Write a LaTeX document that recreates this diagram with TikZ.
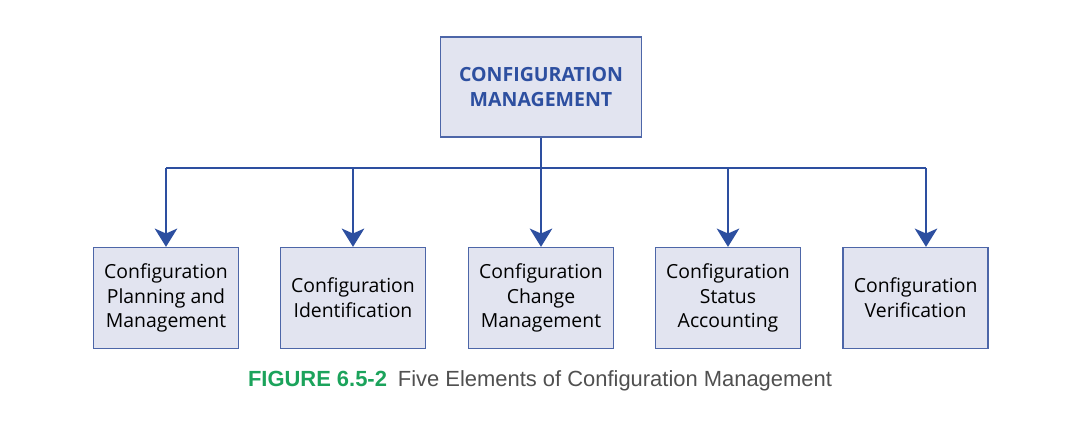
\documentclass[tikz,border=0pt]{standalone}
\usepackage{fontspec}
\setmainfont{Open Sans}
\newfontfamily\capfont{Liberation Sans}
\usetikzlibrary{arrows.meta}
\definecolor{cmblue}{HTML}{2D4FA0}
\definecolor{cmedge}{HTML}{4D66A8}
\definecolor{cmfill}{HTML}{E2E4F0}
\definecolor{cmgreen}{HTML}{1BA35B}
\definecolor{cmgray}{HTML}{505050}

\begin{document}
\begin{tikzpicture}[font=\fontsize{13.8}{17.7}\selectfont,
  box/.style={draw=cmedge,fill=cmfill,line width=0.9pt,align=center,inner sep=2pt,minimum width=3.625cm,minimum height=2.525cm},
  head/.style={box,minimum width=5.025cm,minimum height=2.5cm,text=cmblue,font=\fontsize{13.9}{18.4}\selectfont\bfseries},
  flow/.style={cmblue,line width=1.6pt},
  drop/.style={flow,-{Stealth[length=13pt,width=16pt,inset=3.5pt]}},
  figcap/.style={font=\capfont\fontsize{15.6}{17}\selectfont,text=cmgray}]

\useasboundingbox (0,0) rectangle (27,10.875);

% top node
\node[head] (cm) at (13.525,8.7) {CONFIGURATION\\MANAGEMENT};
% five elements
\node[box] (plan) at (4.15,3.425) {Configuration\\Planning and\\Management};
\node[box] (ident) at (8.825,3.425) {Configuration\\Identification};
\node[box] (chg) at (13.525,3.425) {Configuration\\Change\\Management};
\node[box] (stat) at (18.2,3.425) {Configuration\\Status\\Accounting};
\node[box] (ver) at (22.89,3.425) {Configuration\\Verification};

% bus
\coordinate (bl) at (4.15,6.675);
\coordinate (br) at (23.15,6.675);
\draw[flow] (cm.south) -- (cm.south |- bl);
\draw[flow] (bl) -- (br);
\draw[drop] (plan.north |- bl) -- (plan.north);
\draw[drop] (ident.north |- bl) -- (ident.north);
\draw[drop] (chg.north |- bl) -- (chg.north);
\draw[drop] (stat.north |- bl) -- (stat.north);
\draw[drop] (br) -- (br |- ver.north);

% caption
\node[figcap] (fig) at (13.5,1.35) {\textcolor{cmgreen}{\bfseries FIGURE 6.5-2}\hspace{0.5em}Five Elements of Configuration Management};
\end{tikzpicture}
\end{document}
